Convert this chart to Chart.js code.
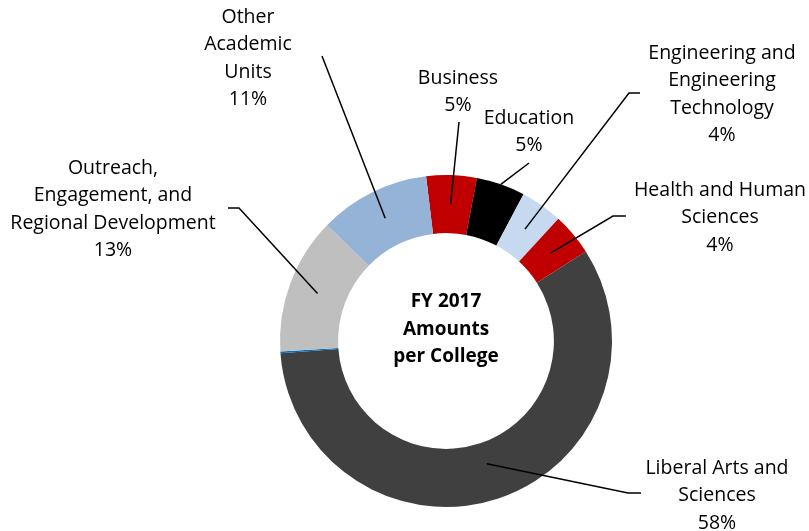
<!DOCTYPE html>
<html>
<head>
<meta charset="utf-8">
<script src="https://cdn.jsdelivr.net/npm/chart.js@4.4.1/dist/chart.umd.min.js"></script>
<style>
  html, body { margin: 0; padding: 0; background: #fff; }
  #wrap { width: 809px; height: 531px; position: relative; }
</style>
</head>
<body>
<div id="wrap"><canvas id="c" width="809" height="531"></canvas></div>
<script>
// ---- Data ----
const categories = [
  "Business",
  "Education",
  "Engineering and Engineering Technology",
  "Health and Human Sciences",
  "Liberal Arts and Sciences",
  "",
  "Outreach, Engagement, and Regional Development",
  "Other Academic Units"
];
const shares = [4.9, 4.75, 4.1, 4.1, 57.9, 0.15, 13.3, 10.8];
const colors = ["#C00000", "#000000", "#C6D9F1", "#C00000", "#404040", "#0070C0", "#BFBFBF", "#95B3D7"];
const centerTitle = ["FY 2017", "Amounts", "per College"];

const FONT = "'Open Sans', sans-serif";

// label layout (positions only; text comes from categories + computed %)
const labelLayout = [
  { idx: 0, lines: ["Business"], x: 458, y: 78, path: [[459, 122]], r: 0.5 },
  { idx: 1, lines: ["Education"], x: 529, y: 118, path: [[529, 163]], r: 1.0 },
  { idx: 2, lines: ["Engineering and", "Engineering", "Technology"], x: 722, y: 53, path: [[640, 93], [629, 93]], r: 0.5 },
  { idx: 3, lines: ["Health and Human", "Sciences"], x: 720, y: 190, path: [[626, 216], [613, 216]], r: 0.5 },
  { idx: 4, lines: ["Liberal Arts and", "Sciences"], x: 717, y: 468, path: [[641, 493], [628, 493]], r: 0.37 },
  { idx: 6, lines: ["Outreach,", "Engagement, and", "Regional Development"], x: 113, y: 168, path: [[228, 208], [239, 208]], r: 0.5 },
  { idx: 7, lines: ["Other", "Academic", "Units"], x: 248, y: 17, path: [[322, 56]], r: 0.5 }
];

const total = shares.reduce((a, b) => a + b, 0);

const labelPlugin = {
  id: 'labelPlugin',
  afterDraw(chart) {
    const ctx = chart.ctx;
    const meta = chart.getDatasetMeta(0);
    ctx.save();
    // leader lines
    ctx.strokeStyle = "#000";
    ctx.lineWidth = 1.5;
    labelLayout.forEach(L => {
      const arc = meta.data[L.idx];
      const p = arc.getProps(['x', 'y', 'startAngle', 'endAngle', 'innerRadius', 'outerRadius'], true);
      const mid = (p.startAngle + p.endAngle) / 2;
      const rr = p.innerRadius + (p.outerRadius - p.innerRadius) * L.r;
      const ex = p.x + Math.cos(mid) * rr;
      const ey = p.y + Math.sin(mid) * rr;
      ctx.beginPath();
      ctx.moveTo(L.path[0][0], L.path[0][1]);
      for (let i = 1; i < L.path.length; i++) ctx.lineTo(L.path[i][0], L.path[i][1]);
      ctx.lineTo(ex, ey);
      ctx.stroke();
    });
    // label text
    ctx.fillStyle = "#000";
    ctx.textAlign = "center";
    ctx.textBaseline = "middle";
    ctx.font = "19.5px " + FONT;
    labelLayout.forEach(L => {
      const pct = Math.round(shares[L.idx] / total * 100) + "%";
      const lines = L.lines.concat([pct]);
      lines.forEach((t, i) => ctx.fillText(t, L.x, L.y + i * 27.5));
    });
    // center title
    const cx = meta.data[0].x, cy = meta.data[0].y;
    ctx.font = "bold 19px " + FONT;
    centerTitle.forEach((t, i) => ctx.fillText(t, cx, cy - 39 + i * 27.5));
    ctx.restore();
  }
};

new Chart(document.getElementById('c'), {
  type: 'doughnut',
  data: {
    labels: categories,
    datasets: [{
      data: shares,
      backgroundColor: colors,
      borderWidth: 0
    }]
  },
  options: {
    responsive: false,
    animation: false,
    rotation: -6.9,
    cutout: '65%',
    layout: { padding: { left: 280, right: 197, top: 175, bottom: 24 } },
    plugins: {
      legend: { display: false },
      tooltip: { enabled: false }
    }
  },
  plugins: [labelPlugin]
});
</script>
</body>
</html>
